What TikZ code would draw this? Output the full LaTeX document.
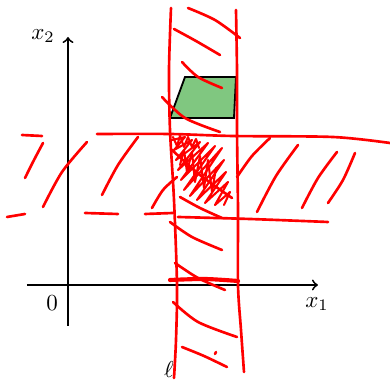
\documentclass[tikz,border=0pt]{standalone}
\usetikzlibrary{arrows}
\definecolor{setgreen}{RGB}{128,199,128}
\begin{document}
\begin{tikzpicture}[x=0.435pt,y=-0.435pt,
  pen/.style={red,line width=1.15pt,line cap=round,line join=round},
  thinpen/.style={pen,line width=0.9pt},
  axis/.style={black,line width=0.8pt,->},
  lbl/.style={inner sep=0pt}]
\useasboundingbox (0,0) rectangle (390,380);
% axes
\coordinate (xs) at (27,285);
\coordinate (xe) at (318,285);
\coordinate (ys) at (68,326);
\coordinate (ye) at (68,37);
\draw[axis] (xs) -- (xe);
\draw[axis] (ys) -- (ye);
\node[lbl] (lx2) at (43,36) {$x_2$};
\node[lbl] (l0) at (52,303) {$0$};
\node[lbl] (lx1) at (317,304) {$x_1$};
\node[lbl] (lell) at (169,370) {$\ell$};
% green set
\filldraw[fill=setgreen,draw=black,line width=0.8pt]
  (185,77) -- (236,77) -- (234,118) -- (170,118) -- cycle;
% strip boundaries
\draw[pen] plot[smooth] coordinates {(171,8) (169,70) (170,130) (174,200) (177,285) (176,340) (174,378)};
\draw[pen] plot[smooth] coordinates {(236,10) (237,70) (237,130) (238,210) (238,285) (241,330) (244,372)};
% strip hatches
\draw[pen] plot[smooth] coordinates {(188,8) (215,20) (240,38)};
\draw[pen] plot[smooth] coordinates {(174,29) (196,41) (220,55)};
\draw[pen] plot[smooth] coordinates {(182,62) (198,77) (222,88)};
\draw[pen] plot[smooth] coordinates {(162,97) (185,118) (220,132)};
\draw[pen] plot[smooth] coordinates {(170,222) (192,237) (222,250)};
\draw[pen] plot[smooth] coordinates {(175,263) (198,278) (225,290)};
\draw[pen] plot[smooth] coordinates {(173,302) (198,322) (237,337)};
\draw[pen] plot[smooth] coordinates {(182,347) (204,356) (227,367)};
\draw[pen] (215,354) -- (216,352);
\draw[pen,line width=1.8pt] plot[smooth] coordinates {(170,280) (205,279) (238,281)};
% horizontal band boundaries
\draw[pen] (22,135) -- (42,136);
\draw[pen] plot[smooth] coordinates {(97,134) (170,134) (233,136) (333,137) (390,143)};
\draw[pen] (7,217) -- (25,214);
\draw[pen] (85,213) -- (118,214);
\draw[pen] (145,214) -- (173,213);
\draw[pen] plot[smooth] coordinates {(178,217) (250,219) (328,222)};
% band hatches
\draw[pen] plot[smooth] coordinates {(25,178) (34,160) (43,143)};
\draw[pen] plot[smooth] coordinates {(43,207) (62,172) (87,142)};
\draw[pen] plot[smooth] coordinates {(102,195) (118,165) (138,137)};
\draw[pen] plot[smooth] coordinates {(152,208) (163,190) (177,177)};
\draw[pen] plot[smooth] coordinates {(237,177) (252,156) (270,138)};
\draw[pen] plot[smooth] coordinates {(257,212) (276,176) (298,145)};
\draw[pen] plot[smooth] coordinates {(302,208) (318,178) (337,152)};
\draw[pen] plot[smooth] coordinates {(328,203) (343,180) (355,153)};
% scribble in intersection
\draw[thinpen] plot coordinates {(172,140) (185,137) (174,150) (192,140) (176,160) (200,142) (178,170) (208,143) (181,180) (215,146) (184,190) (222,148) (190,196) (224,160) (197,200) (226,172) (205,203) (228,182) (215,205) (230,192) (224,205)};
\draw[thinpen] plot coordinates {(173,137) (177,146) (180,136) (184,147) (188,137) (192,147) (196,139) (199,148)};
\draw[thinpen] plot coordinates {(180,165) (184,150) (187,172) (192,152) (195,182) (200,156) (204,188) (208,160) (212,192) (216,168)};
\draw[pen] plot[smooth] coordinates {(172,150) (200,175) (232,198)};
\draw[pen] plot[smooth] coordinates {(180,197) (200,208) (222,218)};
\end{tikzpicture}
\end{document}
